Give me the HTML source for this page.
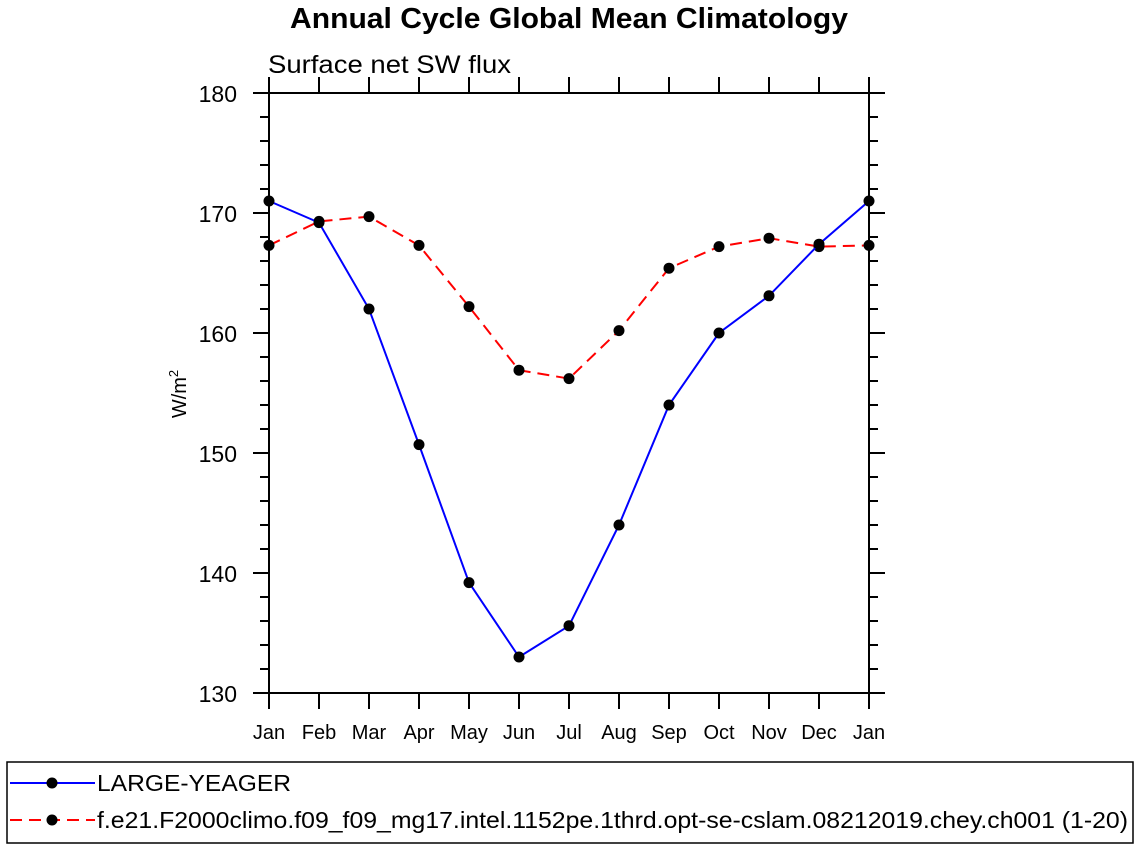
<!DOCTYPE html>
<html><head><meta charset="utf-8"><style>
body{margin:0;background:#fff;}
svg text{font-family:"Liberation Sans",sans-serif;}
</style></head><body>
<svg id="c" width="1138" height="849" xmlns="http://www.w3.org/2000/svg">
<text x="569" y="28" text-anchor="middle" font-size="29" font-weight="bold" textLength="558" lengthAdjust="spacingAndGlyphs">Annual Cycle Global Mean Climatology</text>
<text x="268" y="73" font-size="25" textLength="243" lengthAdjust="spacingAndGlyphs">Surface net SW flux</text>
<text transform="translate(186,394) rotate(-90)" text-anchor="middle" font-size="20">W/m<tspan dy="-8" font-size="13">2</tspan></text>
<g id="axes"></g>
<g id="series"></g>
<rect x="7" y="762" width="1126" height="81" fill="none" stroke="#000" stroke-width="1.5"/>
<g>
<line x1="10" y1="783" x2="95" y2="783" stroke="#00f" stroke-width="2"/>
<circle cx="52" cy="783" r="5.5" fill="#000"/>
<text x="97" y="791" font-size="23" textLength="194" lengthAdjust="spacingAndGlyphs">LARGE-YEAGER</text></g>
<g>
<line x1="10" y1="820" x2="95" y2="820" stroke="#f00" stroke-width="2" stroke-dasharray="12,7"/>
<circle cx="52" cy="820" r="5.5" fill="#000"/>
<text x="97" y="828" font-size="23" textLength="1031" lengthAdjust="spacingAndGlyphs">f.e21.F2000climo.f09_f09_mg17.intel.1152pe.1thrd.opt-se-cslam.08212019.chey.ch001 (1-20)</text></g>
</svg>
<script>
const months=["Jan","Feb","Mar","Apr","May","Jun","Jul","Aug","Sep","Oct","Nov","Dec","Jan"];
const yTicks=[130,140,150,160,170,180];
const largeYeager=[171.0,169.2,162.0,150.7,139.2,133.0,135.6,144.0,154.0,160.0,163.1,167.4,171.0];
const f09Run=[167.3,169.3,169.7,167.3,162.2,156.9,156.2,160.2,165.4,167.2,167.9,167.2,167.3];
const NS="http://www.w3.org/2000/svg";
const X0=269,X1=869,Y0=693,Y1=93,YMIN=130,YMAX=180;
function xs(i){return X0+(X1-X0)*i/(months.length-1);}
function ys(v){return Y0-(v-YMIN)/(YMAX-YMIN)*(Y0-Y1);}
function mk(t,a,p){const e=document.createElementNS(NS,t);for(const k in a)e.setAttribute(k,a[k]);p.appendChild(e);return e;}
const ax=document.getElementById('axes');
const box=mk('rect',{x:X0,y:Y1,width:X1-X0,height:Y0-Y1,fill:'none',stroke:'#000','stroke-width':2},ax);


for(let v=YMIN;v<=YMAX;v+=2){
  const maj=(v%10===0),L=maj?16:9,y=ys(v);
  mk('line',{x1:X0-L,y1:y,x2:X0,y2:y,stroke:'#000','stroke-width':2},ax);
  mk('line',{x1:X1,y1:y,x2:X1+L,y2:y,stroke:'#000','stroke-width':2},ax);
}
yTicks.forEach(v=>{
  const t=mk('text',{x:237,y:ys(v)+9,'text-anchor':'end','font-size':23},ax);
  t.textContent=v;
  
  
});
months.forEach((m,i)=>{
  const x=xs(i);
  mk('line',{x1:x,y1:Y0,x2:x,y2:Y0+16,stroke:'#000','stroke-width':2},ax);
  mk('line',{x1:x,y1:Y1,x2:x,y2:Y1-16,stroke:'#000','stroke-width':2},ax);
  const t=mk('text',{x:x,y:739,'text-anchor':'middle','font-size':20},ax);
  t.textContent=m;
  
  
});
const sg=document.getElementById('series');
function draw(vals,color,dash,name){
  const g=mk('g',{},sg);
  
  
  const pts=vals.map((v,i)=>xs(i)+','+ys(v)).join(' ');
  const a={points:pts,fill:'none',stroke:color,'stroke-width':2};
  if(dash)a['stroke-dasharray']=dash;
  mk('polyline',a,g);
  vals.forEach((v,i)=>{
    const c=mk('circle',{cx:xs(i),cy:ys(v),r:5.5,fill:'#000'},g);
    
    
  });
}
draw(f09Run,'#f00','12,7','series-f09-run');
draw(largeYeager,'#00f',null,'series-large-yeager');
</script>
</body></html>
